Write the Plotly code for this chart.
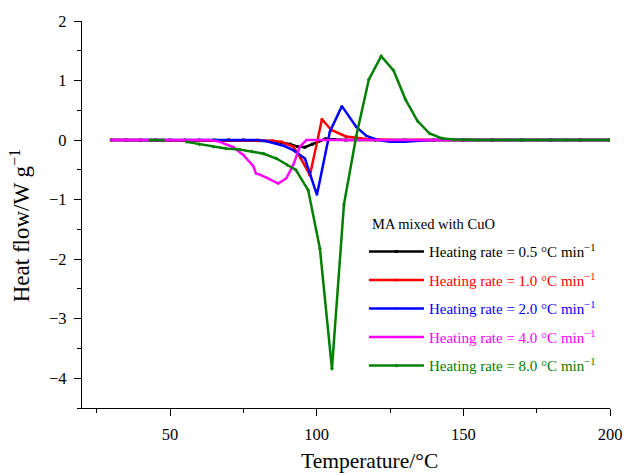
import plotly.graph_objects as go

# DSC heat-flow curves of MA mixed with CuO at five heating rates
rates = ["0.5", "1.0", "2.0", "4.0", "8.0"]
colors = ["#000000", "#FF0000", "#0000FF", "#FF00FF", "#008000"]
symbols = ["square", "circle", "triangle-up", "triangle-down", "diamond"]

temp_05 = [30, 35, 40, 45, 50, 55, 60, 65, 70, 75, 80, 84, 88, 91, 93.5, 96, 98.5,
           101, 103, 106, 110, 120, 130, 140, 150, 160, 170, 180, 190, 200]
flow_05 = [0, 0, 0, 0, 0, 0, 0, 0, 0, 0, -0.01, -0.02, -0.04, -0.07, -0.11, -0.12, -0.07,
           -0.01, 0.02, 0.01, 0, 0, 0, 0, 0, 0, 0, 0, 0, 0]

temp_10 = [30, 35, 40, 45, 50, 55, 60, 65, 70, 75, 80, 85, 88, 92, 94.5, 97.7, 101.8,
           105, 110, 117, 125, 135, 145, 155, 165, 175, 185, 200]
flow_10 = [0, 0, 0, 0, 0, 0, 0, 0, 0, 0, 0, -0.01, -0.03, -0.11, -0.3, -0.59, 0.35,
           0.17, 0.06, 0.02, 0, 0, 0, 0, 0, 0, 0, 0]

temp_20 = [30, 35, 40, 45, 50, 55, 60, 65, 70, 75, 80, 83, 86.3, 89, 92, 96, 100.1,
           104.5, 108.6, 113.5, 117, 121, 125, 130, 135, 140, 150, 160, 170, 180, 190, 200]
flow_20 = [0, 0, 0, 0, 0, 0, 0, 0, 0, 0, 0, -0.02, -0.06, -0.1, -0.17, -0.31, -0.92,
           0.14, 0.57, 0.22, 0.07, 0.0, -0.03, -0.03, -0.01, 0, 0, 0, 0, 0, 0, 0]

temp_40 = [30, 35, 40, 45, 50, 55, 60, 63.6, 67, 71.6, 75, 78.4, 79.3, 80.6, 82.9,
           86.9, 89.7, 92, 94.3, 96.5, 100, 110, 120, 130, 140, 150, 160, 170, 180, 190, 200]
flow_40 = [0, 0, 0, 0, 0, 0, 0, 0, -0.03, -0.12, -0.25, -0.44, -0.56, -0.58, -0.63,
           -0.73, -0.64, -0.42, -0.11, 0.0, 0, 0, 0, 0, 0, 0, 0, 0, 0, 0, 0]

temp_80 = [43.2, 47.7, None, 55.6, 60, 64.8, 69, 73.8, 78, 82, 86.3, 90, 92.9, 97.1,
           101.1, 105.2, 109.3, 113.5, 117.8, 122.0, 126.2, 130.3, 134.4, 138.5,
           142.6, 146.7, 155, 170, 185, 200]
flow_80 = [0, 0, None, -0.03, -0.07, -0.11, -0.14, -0.16, -0.19, -0.23, -0.31, -0.42,
           -0.5, -0.84, -1.82, -3.84, -1.08, 0.07, 1.02, 1.41, 1.17, 0.68, 0.32, 0.11,
           0.03, 0.01, 0, 0, 0, 0]

temps = [temp_05, temp_10, temp_20, temp_40, temp_80]
flows = [flow_05, flow_10, flow_20, flow_40, flow_80]

FONT = "Times New Roman, Liberation Serif, serif"

fig = go.Figure()
for i, (r, c, s, t, f) in enumerate(zip(rates, colors, symbols, temps, flows)):
    fig.add_trace(go.Scatter(
        x=t, y=f, mode="lines+markers",
        line=dict(color=c, width=2.5),
        marker=dict(symbol=s, size=3, color=c),
        connectgaps=False,
        legendgroup=f"g{i}",
        name=f"<span style='color:{c}'>Heating rate = {r} °C min<sup>−1</sup></span>",
    ))

axis_common = dict(
    showline=True, linecolor="black", linewidth=1.3,
    ticks="outside", ticklen=7, tickwidth=1.3, tickcolor="black",
    showgrid=False, zeroline=False, mirror=False,
    tickfont=dict(family=FONT, size=16.5, color="black"),
    ticklabelstandoff=4,
)

fig.update_xaxes(
    range=[20, 200], tickvals=[50, 100, 150, 200],
    minor=dict(tickvals=[25, 75, 125, 175], ticklen=4, tickwidth=1.3,
               tickcolor="black", ticks="outside"),
    **axis_common,
)
fig.update_yaxes(
    range=[-4.5, 2], tickvals=[-4, -3, -2, -1, 0, 1, 2],
    minor=dict(tickvals=[-4.5, -3.5, -2.5, -1.5, -0.5, 0.5, 1.5], ticklen=4,
               tickwidth=1.3, tickcolor="black", ticks="outside"),
    **axis_common,
)

# axis titles
fig.add_annotation(
    text="Temperature/°C", xref="paper", yref="paper",
    x=0.5436, y=-0.1358, xanchor="center", yanchor="middle", showarrow=False,
    font=dict(family=FONT, size=21.5, color="black"),
)
fig.add_annotation(
    text="Heat flow/W g<sup>−1</sup>", xref="paper", yref="paper", textangle=-90,
    x=-0.1174, y=0.4696, xanchor="center", yanchor="middle", showarrow=False,
    font=dict(family=FONT, size=23, color="black"),
)

# legend heading
fig.add_annotation(
    text="MA mixed with CuO", xref="paper", yref="paper",
    x=0.545, y=0.475, xanchor="left", yanchor="middle", showarrow=False,
    font=dict(family=FONT, size=14.5, color="black"),
)

fig.update_layout(
    width=625, height=473,
    margin=dict(l=82, r=15, t=21, b=65, autoexpand=False),
    paper_bgcolor="white", plot_bgcolor="white",
    font=dict(family=FONT, color="black"),
    showlegend=True,
    legend=dict(
        x=0.534, y=0.4463, xanchor="left", yanchor="top",
        bgcolor="rgba(0,0,0,0)", borderwidth=0,
        font=dict(family=FONT, size=15),
        tracegroupgap=6,
        itemwidth=55,
    ),
)

fig.write_html("out.html")
